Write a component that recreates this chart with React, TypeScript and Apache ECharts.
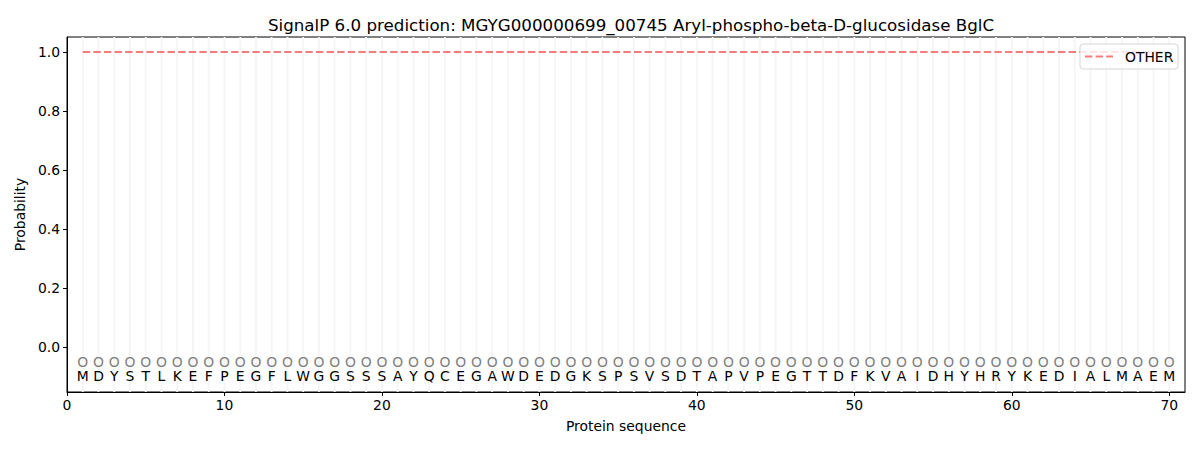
import React, { useEffect, useRef } from "react";
import * as echarts from "echarts";

const TITLE = "SignalP 6.0 prediction: MGYG000000699_00745 Aryl-phospho-beta-D-glucosidase BglC";
const SEQUENCE = "MDYSTLKEFPEGFLWGGSSSAYQCEGAWDEDGKSPSVSDTAPVPEGTTDFKVAIDHYHRYKEDIALMAEM".split("");
const POSITIONS = SEQUENCE.map((_, i) => i + 1);
const OTHER_PROB = SEQUENCE.map(() => 1.0);
const X_TICKS = [0, 10, 20, 30, 40, 50, 60, 70];
const Y_TICKS = [0, 0.2, 0.4, 0.6, 0.8, 1.0];
const LEGEND_LABEL = "OTHER";
const FONT = "DejaVu Sans";
const RED = "rgba(240,80,80,0.75)";

export default function App() {
  const ref = useRef<HTMLDivElement>(null);
  useEffect(() => {
    if (!ref.current) return;
    const chart = echarts.init(ref.current, undefined, { renderer: "svg" });
    const yMin = -0.153;
    const yMax = 1.051;
    chart.setOption({
      animation: false,
      backgroundColor: "#ffffff",
      title: {
        text: TITLE,
        left: 626,
        textAlign: "center",
        top: 11,
        textStyle: { fontFamily: FONT, fontSize: 16.7, fontWeight: "normal", color: "#000" },
      },
      grid: {
        left: 67,
        right: 15,
        top: 37,
        bottom: 58,
        show: true,
        borderColor: "#000",
        borderWidth: 1,
        backgroundColor: "transparent",
      },
      graphic: [
        {
          type: "rect",
          z: 100,
          shape: { x: 1080, y: 44, width: 98, height: 25, r: 3 },
          style: { fill: "rgba(255,255,255,0.8)", stroke: "#d5d5d5", lineWidth: 1 },
        },
        {
          type: "line",
          z: 101,
          shape: { x1: 1085, y1: 56.5, x2: 1113, y2: 56.5 },
          style: { stroke: RED, lineWidth: 2, lineDash: [7.4, 3.2] },
        },
        {
          type: "text",
          z: 101,
          x: 1125,
          y: 56.5,
          style: {
            text: LEGEND_LABEL,
            fontFamily: FONT,
            fontSize: 13.9,
            fill: "#000",
            verticalAlign: "middle",
          },
        },
      ],
      xAxis: {
        type: "value",
        min: 0,
        max: 71,
        interval: 10,
        name: "Protein sequence",
        nameLocation: "middle",
        nameGap: 27,
        nameTextStyle: { fontFamily: FONT, fontSize: 13.9, color: "#000" },
        axisLine: { show: true, onZero: false, lineStyle: { color: "#000", width: 1 } },
        axisTick: { show: true, length: 4, lineStyle: { color: "#000" }, customValues: X_TICKS },
        axisLabel: {
          fontFamily: FONT,
          fontSize: 13.9,
          color: "#000",
          margin: 6,
          customValues: X_TICKS,
        },
        splitLine: { show: false },
      },
      yAxis: {
        type: "value",
        min: yMin,
        max: yMax,
        name: "Probability",
        nameLocation: "middle",
        nameGap: 40,
        nameTextStyle: { fontFamily: FONT, fontSize: 13.9, color: "#000" },
        axisLine: { show: true, onZero: false, lineStyle: { color: "#000", width: 1 } },
        axisTick: { show: true, length: 4, lineStyle: { color: "#000" }, customValues: Y_TICKS },
        axisLabel: {
          fontFamily: FONT,
          fontSize: 13.9,
          color: "#000",
          margin: 7,
          customValues: Y_TICKS,
          formatter: (v: number) => v.toFixed(1),
        },
        splitLine: { show: false },
      },
      series: [
        {
          type: "custom",
          name: "grid",
          silent: true,
          z: 0,
          data: POSITIONS.map((p) => [p]),
          renderItem: (params: any, api: any) => {
            const x = api.value(0);
            const top = api.coord([x, yMax]);
            const bot = api.coord([x, yMin]);
            return {
              type: "line",
              shape: { x1: top[0], y1: top[1], x2: bot[0], y2: bot[1] },
              style: { stroke: "#f5f5f5", lineWidth: 1.8 },
            };
          },
        },
        {
          type: "line",
          name: "OTHER",
          data: POSITIONS.map((p, i) => [p, OTHER_PROB[i]]),
          symbol: "none",
          z: 3,
          lineStyle: { color: RED, width: 2, type: [7.4, 3.2] },
          itemStyle: { color: RED },
        },
        {
          type: "custom",
          name: "marks",
          silent: true,
          z: 2,
          data: POSITIONS.map((p, i) => [p, i]),
          renderItem: (params: any, api: any) => {
            const x = api.value(0);
            const idx = api.value(1);
            const o = api.coord([x, -0.05]);
            const l = api.coord([x, -0.1]);
            return {
              type: "group",
              children: [
                {
                  type: "text",
                  x: o[0],
                  y: o[1],
                  style: {
                    text: "O",
                    fontFamily: FONT,
                    fontSize: 13.9,
                    fill: "#808080",
                    align: "center",
                    verticalAlign: "middle",
                  },
                },
                {
                  type: "text",
                  x: l[0],
                  y: l[1],
                  style: {
                    text: SEQUENCE[idx],
                    fontFamily: FONT,
                    fontSize: 13.9,
                    fill: "#000",
                    align: "center",
                    verticalAlign: "middle",
                  },
                },
              ],
            };
          },
        },
      ],
    });
    return () => chart.dispose();
  }, []);
  return (
    <div
      ref={ref}
      style={{ position: "fixed", left: 0, top: 0, width: 1200, height: 450, background: "#fff" }}
    />
  );
}
